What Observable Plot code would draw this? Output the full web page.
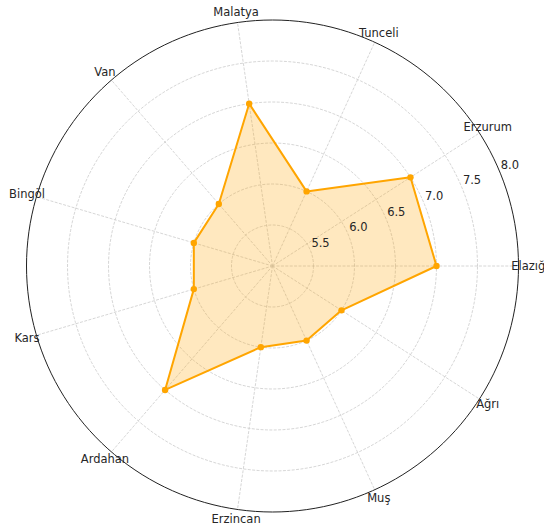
<!DOCTYPE html>
<html>
<head>
<meta charset="utf-8">
<script src="https://cdn.jsdelivr.net/npm/d3@7"></script>
<script src="https://cdn.jsdelivr.net/npm/@observablehq/plot@0.6"></script>
<style>
  body { margin: 0; background: #fff; }
  svg { overflow: visible; }
</style>
</head>
<body>
<div id="chart"></div>
<script>
const categories = ["Elazığ", "Erzurum", "Tunceli", "Malatya", "Van", "Bingöl", "Kars", "Ardahan", "Erzincan", "Muş", "Ağrı"];
const values = [7.0, 7.0, 6.0, 7.0, 6.0, 6.0, 6.0, 7.0, 6.0, 6.0, 6.0];
const rTicks = [5.5, 6.0, 6.5, 7.0, 7.5, 8.0];
const rTickLabels = ["5.5", "6.0", "6.5", "7.0", "7.5", "8.0"];
const rMin = 5.0;
const rMax = 8.0;
const labelValue = 8.12;
const rLabelAngle = 22.5;

const n = categories.length;
const angleOf = i => (2 * Math.PI * i) / n;
const polar = (v, a) => ({ x: (v - rMin) * Math.cos(a), y: (v - rMin) * Math.sin(a) });

const pts = categories.map((c, i) => ({ name: c, value: values[i], ...polar(values[i], angleOf(i)) }));
const ringPts = rTicks.flatMap(t => d3.range(0, 361, 2).map(deg => ({ t, ...polar(t, deg * Math.PI / 180) })));
const spokes = categories.flatMap((c, i) => [{ c, ...polar(rMin, angleOf(i)) }, { c, ...polar(rMax, angleOf(i)) }]);
const catLabels = categories.map((c, i) => ({ name: c, ...polar(labelValue, angleOf(i)) }));
const rLabels = rTicks.map((t, i) => ({ label: rTickLabels[i], ...polar(t, rLabelAngle * Math.PI / 180) }));

const span = rMax - rMin;
const chart = Plot.plot({
  width: 544,
  height: 525,
  marginLeft: 26,
  marginRight: 26,
  marginTop: 19.5,
  marginBottom: 13.5,
  x: { domain: [-span, span], axis: null },
  y: { domain: [-span, span], axis: null },
  style: { fontFamily: "DejaVu Sans, sans-serif", background: "#fff" },
  marks: [
    Plot.line(ringPts.filter(d => d.t < rMax), { x: "x", y: "y", z: "t", stroke: "#cccccc", strokeWidth: 0.8, strokeDasharray: "2.2,2.2" }),
    Plot.line(spokes, { x: "x", y: "y", z: "c", stroke: "#cccccc", strokeWidth: 0.8, strokeDasharray: "2.2,2.2" }),
    Plot.line(pts, { x: "x", y: "y", curve: "linear-closed", fill: "#FFA500", fillOpacity: 0.25, stroke: "none" }),
    Plot.line(pts, { x: "x", y: "y", curve: "linear-closed", stroke: "#FFA500", strokeWidth: 2 }),
    Plot.dot(pts, { x: "x", y: "y", r: 3.2, fill: "#FFA500", stroke: "none" }),
    Plot.line(ringPts.filter(d => d.t === rMax), { x: "x", y: "y", stroke: "#222", strokeWidth: 1 }),
    Plot.text(rLabels, { x: "x", y: "y", text: "label", textAnchor: "start", dx: 1, dy: -7, fontSize: 11.5, fill: "#262626" }),
    Plot.text(catLabels, { x: "x", y: "y", text: "name", fontSize: 11.5, fill: "#262626" })
  ]
});
document.getElementById("chart").append(chart);
</script>
</body>
</html>
